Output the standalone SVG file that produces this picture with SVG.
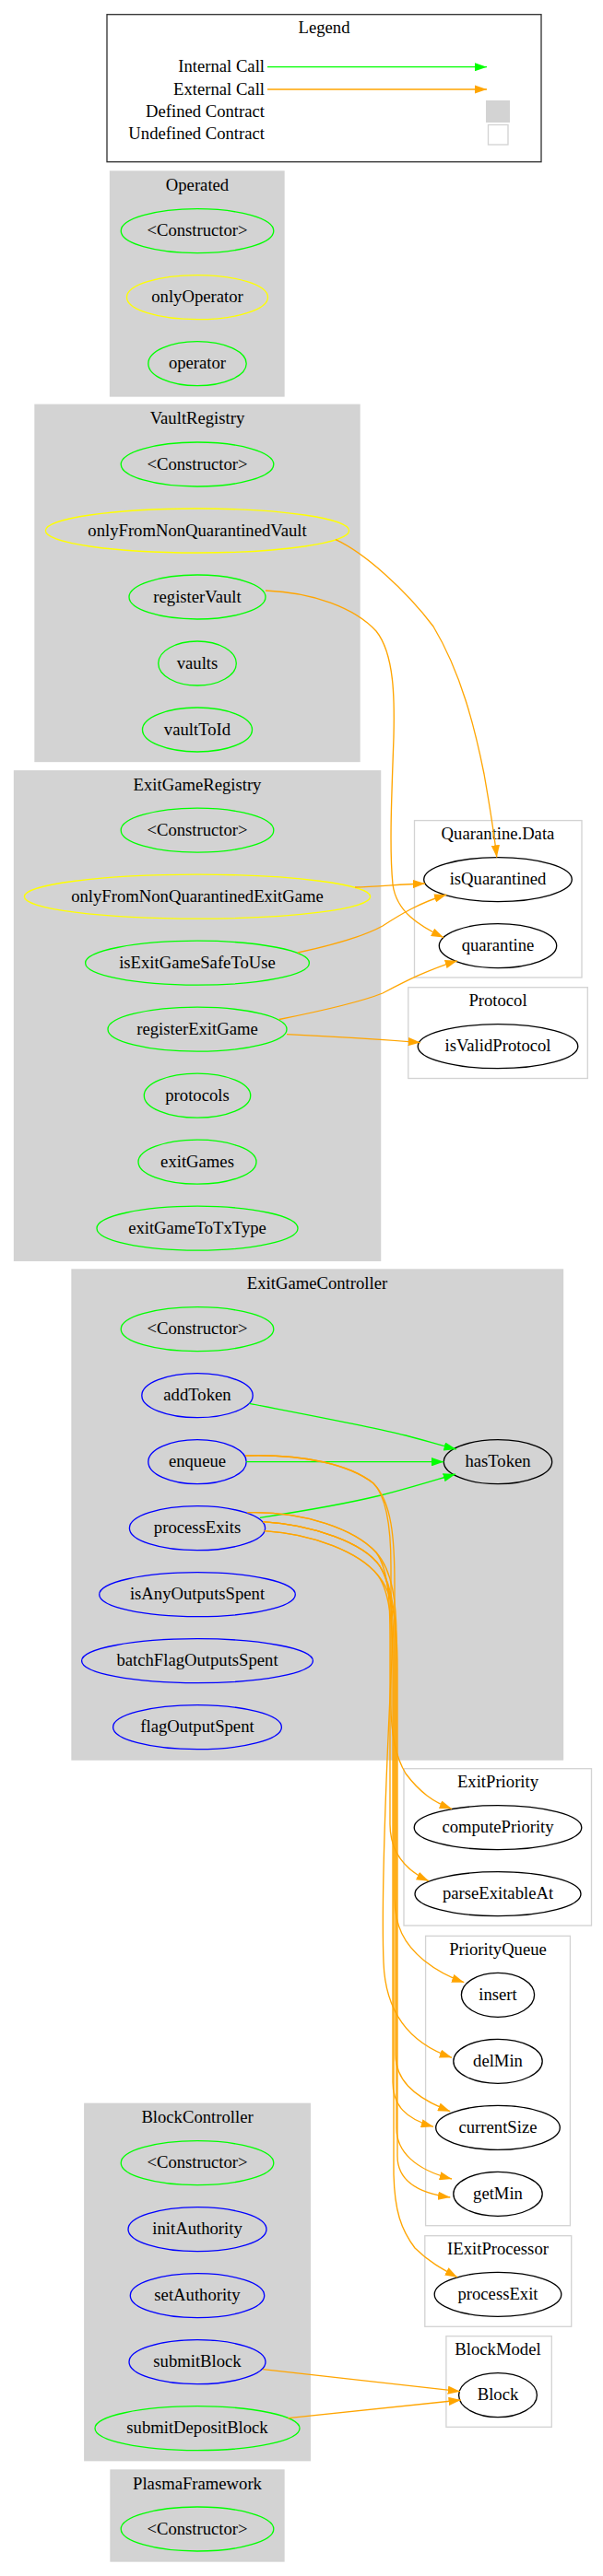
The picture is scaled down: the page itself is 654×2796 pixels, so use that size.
<svg xmlns="http://www.w3.org/2000/svg" width="654" height="2796" viewBox="0 0 654 2796">
<style>
text{font-family:"Liberation Serif","Times New Roman",serif;font-size:18.67px;fill:#000}
.c{text-anchor:middle}
.r{text-anchor:end}
.def{fill:#d3d3d3;stroke:#d3d3d3;stroke-width:1.33}
.und{fill:#fff;stroke:#d3d3d3;stroke-width:1.33}
ellipse{stroke-width:1.33}
.g{fill:none;stroke:#00ff00}
.y{fill:none;stroke:#ffff00}
.b{fill:none;stroke:#0000ff}
.k{fill:none;stroke:#000}
.eg{fill:none;stroke:#00ff00;stroke-width:1.33;marker-end:url(#ag)}
.eo{fill:none;stroke:#ffa500;stroke-width:1.33;marker-end:url(#ao)}
</style>
<defs>
<marker id="ag" viewBox="0 0 10 7" refX="10" refY="3.5" markerUnits="userSpaceOnUse" markerWidth="13.3" markerHeight="9.3" orient="auto"><path d="M0,0 L10,3.5 L0,7 z" fill="#00ff00"/></marker>
<marker id="ao" viewBox="0 0 10 7" refX="10" refY="3.5" markerUnits="userSpaceOnUse" markerWidth="13.3" markerHeight="9.3" orient="auto"><path d="M0,0 L10,3.5 L0,7 z" fill="#ffa500"/></marker>
</defs>
<rect width="654" height="2796" fill="#fff"/>

<g id="legend">
<rect x="116" y="15.7" width="471" height="160" fill="#fff" stroke="#333" stroke-width="1.33"/>
<text class="c" x="351.5" y="36.4">Legend</text>
<text class="r" x="287" y="78.3">Internal Call</text>
<text class="r" x="287" y="102.6">External Call</text>
<text class="r" x="287" y="126.6">Defined Contract</text>
<text class="r" x="287" y="150.6">Undefined Contract</text>
<path class="eg" d="M290,72.7 L528,72.7"/>
<path class="eo" d="M290,97 L528,97"/>
<rect x="527" y="109" width="26" height="24" fill="#d3d3d3"/>
<rect x="529.5" y="135.5" width="21.5" height="21.5" fill="#fff" stroke="#d3d3d3" stroke-width="1.33"/>
</g>

<g id="cluster_Operated">
<rect class="def" x="119.5" y="186" width="188.5" height="244"/>
<text class="c" x="214" y="206.7">Operated</text>
</g>
<g id="Operated_Constructor"><ellipse class="g" cx="214" cy="250.7" rx="82.8" ry="24"/><text class="c" x="214" y="256.3">&lt;Constructor&gt;</text></g>
<g id="Operated_onlyOperator"><ellipse class="y" cx="214" cy="322.7" rx="76.5" ry="24"/><text class="c" x="214" y="328.3">onlyOperator</text></g>
<g id="Operated_operator"><ellipse class="g" cx="214" cy="394.7" rx="53.2" ry="24"/><text class="c" x="214" y="400.3">operator</text></g>

<g id="cluster_VaultRegistry">
<rect class="def" x="38" y="439.3" width="352" height="387.2"/>
<text class="c" x="214" y="460">VaultRegistry</text>
</g>
<g id="VaultRegistry_Constructor"><ellipse class="g" cx="214" cy="504" rx="82.8" ry="24"/><text class="c" x="214" y="509.6">&lt;Constructor&gt;</text></g>
<g id="VaultRegistry_onlyFromNonQuarantinedVault"><ellipse class="y" cx="214" cy="576" rx="164.6" ry="24"/><text class="c" x="214" y="581.6">onlyFromNonQuarantinedVault</text></g>
<g id="VaultRegistry_registerVault"><ellipse class="g" cx="214" cy="648" rx="74" ry="24"/><text class="c" x="214" y="653.6">registerVault</text></g>
<g id="VaultRegistry_vaults"><ellipse class="g" cx="214" cy="720" rx="42.3" ry="24"/><text class="c" x="214" y="725.6">vaults</text></g>
<g id="VaultRegistry_vaultToId"><ellipse class="g" cx="214" cy="792" rx="59.5" ry="24"/><text class="c" x="214" y="797.6">vaultToId</text></g>

<g id="cluster_ExitGameRegistry">
<rect class="def" x="15.5" y="836.8" width="397.1" height="531.5"/>
<text class="c" x="214" y="857.5">ExitGameRegistry</text>
</g>
<g id="ExitGameRegistry_Constructor"><ellipse class="g" cx="214" cy="901.2" rx="82.8" ry="24"/><text class="c" x="214" y="906.8">&lt;Constructor&gt;</text></g>
<g id="ExitGameRegistry_onlyFromNonQuarantinedExitGame"><ellipse class="y" cx="214" cy="973.2" rx="187.6" ry="24"/><text class="c" x="214" y="978.8">onlyFromNonQuarantinedExitGame</text></g>
<g id="ExitGameRegistry_isExitGameSafeToUse"><ellipse class="g" cx="214" cy="1045.2" rx="121.4" ry="24"/><text class="c" x="214" y="1050.8">isExitGameSafeToUse</text></g>
<g id="ExitGameRegistry_registerExitGame"><ellipse class="g" cx="214" cy="1117.2" rx="97" ry="24"/><text class="c" x="214" y="1122.8">registerExitGame</text></g>
<g id="ExitGameRegistry_protocols"><ellipse class="g" cx="214" cy="1189.2" rx="57.7" ry="24"/><text class="c" x="214" y="1194.8">protocols</text></g>
<g id="ExitGameRegistry_exitGames"><ellipse class="g" cx="214" cy="1261.2" rx="64" ry="24"/><text class="c" x="214" y="1266.8">exitGames</text></g>
<g id="ExitGameRegistry_exitGameToTxType"><ellipse class="g" cx="214" cy="1333.2" rx="109" ry="24"/><text class="c" x="214" y="1338.8">exitGameToTxType</text></g>

<g id="cluster_QuarantineData">
<rect class="und" x="449.5" y="890.6" width="181.5" height="170.4"/>
<text class="c" x="540" y="911.3">Quarantine.Data</text>
</g>
<g id="QuarantineData_isQuarantined"><ellipse class="k" cx="540" cy="954.6" rx="80.3" ry="24"/><text class="c" x="540" y="960.2">isQuarantined</text></g>
<g id="QuarantineData_quarantine"><ellipse class="k" cx="540" cy="1026.6" rx="63.7" ry="24"/><text class="c" x="540" y="1032.2">quarantine</text></g>

<g id="cluster_Protocol">
<rect class="und" x="442.8" y="1071.7" width="194.5" height="98.8"/>
<text class="c" x="540" y="1092.4">Protocol</text>
</g>
<g id="Protocol_isValidProtocol"><ellipse class="k" cx="540" cy="1135.7" rx="86.8" ry="24"/><text class="c" x="540" y="1141.3">isValidProtocol</text></g>

<g id="cluster_ExitGameController">
<rect class="def" x="78" y="1378" width="532.5" height="532"/>
<text class="c" x="344" y="1398.7">ExitGameController</text>
</g>
<g id="ExitGameController_Constructor"><ellipse class="g" cx="214" cy="1442.7" rx="82.8" ry="24"/><text class="c" x="214" y="1448.3">&lt;Constructor&gt;</text></g>
<g id="ExitGameController_addToken"><ellipse class="b" cx="214" cy="1514.7" rx="60.2" ry="24"/><text class="c" x="214" y="1520.3">addToken</text></g>
<g id="ExitGameController_enqueue"><ellipse class="b" cx="214" cy="1586.7" rx="53.2" ry="24"/><text class="c" x="214" y="1592.3">enqueue</text></g>
<g id="ExitGameController_processExits"><ellipse class="b" cx="214" cy="1658.7" rx="73.6" ry="24"/><text class="c" x="214" y="1664.3">processExits</text></g>
<g id="ExitGameController_isAnyOutputsSpent"><ellipse class="b" cx="214" cy="1730.7" rx="106.3" ry="24"/><text class="c" x="214" y="1736.3">isAnyOutputsSpent</text></g>
<g id="ExitGameController_batchFlagOutputsSpent"><ellipse class="b" cx="214" cy="1802.7" rx="125.4" ry="24"/><text class="c" x="214" y="1808.3">batchFlagOutputsSpent</text></g>
<g id="ExitGameController_flagOutputSpent"><ellipse class="b" cx="214" cy="1874.7" rx="91.4" ry="24"/><text class="c" x="214" y="1880.3">flagOutputSpent</text></g>
<g id="ExitGameController_hasToken"><ellipse class="k" cx="540" cy="1586.7" rx="58.7" ry="24"/><text class="c" x="540" y="1592.3">hasToken</text></g>

<g id="cluster_ExitPriority">
<rect class="und" x="438" y="1919.7" width="203.5" height="170.3"/>
<text class="c" x="540" y="1940.4">ExitPriority</text>
</g>
<g id="ExitPriority_computePriority"><ellipse class="k" cx="540" cy="1983.7" rx="90.8" ry="24"/><text class="c" x="540" y="1989.3">computePriority</text></g>
<g id="ExitPriority_parseExitableAt"><ellipse class="k" cx="540" cy="2055.7" rx="90" ry="24"/><text class="c" x="540" y="2061.3">parseExitableAt</text></g>

<g id="cluster_PriorityQueue">
<rect class="und" x="461.6" y="2101.3" width="156.8" height="314.4"/>
<text class="c" x="540" y="2122">PriorityQueue</text>
</g>
<g id="PriorityQueue_insert"><ellipse class="k" cx="540" cy="2165.3" rx="39.6" ry="24"/><text class="c" x="540" y="2170.9">insert</text></g>
<g id="PriorityQueue_delMin"><ellipse class="k" cx="540" cy="2237.3" rx="48.2" ry="24"/><text class="c" x="540" y="2242.9">delMin</text></g>
<g id="PriorityQueue_currentSize"><ellipse class="k" cx="540" cy="2309.3" rx="67.3" ry="24"/><text class="c" x="540" y="2314.9">currentSize</text></g>
<g id="PriorityQueue_getMin"><ellipse class="k" cx="540" cy="2381.3" rx="48.2" ry="24"/><text class="c" x="540" y="2386.9">getMin</text></g>

<g id="cluster_IExitProcessor">
<rect class="und" x="460.8" y="2426.7" width="158.9" height="98.6"/>
<text class="c" x="540" y="2447.4">IExitProcessor</text>
</g>
<g id="IExitProcessor_processExit"><ellipse class="k" cx="540" cy="2490.3" rx="68.8" ry="24"/><text class="c" x="540" y="2495.9">processExit</text></g>

<g id="cluster_BlockModel">
<rect class="und" x="483.9" y="2535.7" width="114.4" height="98.6"/>
<text class="c" x="540" y="2556.4">BlockModel</text>
</g>
<g id="BlockModel_Block"><ellipse class="k" cx="540" cy="2599.7" rx="42.4" ry="24"/><text class="c" x="540" y="2605.3">Block</text></g>

<g id="cluster_BlockController">
<rect class="def" x="91.8" y="2283.3" width="244.5" height="387.4"/>
<text class="c" x="214" y="2304">BlockController</text>
</g>
<g id="BlockController_Constructor"><ellipse class="g" cx="214" cy="2347.7" rx="82.8" ry="24"/><text class="c" x="214" y="2353.3">&lt;Constructor&gt;</text></g>
<g id="BlockController_initAuthority"><ellipse class="b" cx="214" cy="2419.7" rx="75" ry="24"/><text class="c" x="214" y="2425.3">initAuthority</text></g>
<g id="BlockController_setAuthority"><ellipse class="b" cx="214" cy="2491.7" rx="72.7" ry="24"/><text class="c" x="214" y="2497.3">setAuthority</text></g>
<g id="BlockController_submitBlock"><ellipse class="b" cx="214" cy="2563.7" rx="74" ry="24"/><text class="c" x="214" y="2569.3">submitBlock</text></g>
<g id="BlockController_submitDepositBlock"><ellipse class="g" cx="214" cy="2635.7" rx="111" ry="24"/><text class="c" x="214" y="2641.3">submitDepositBlock</text></g>

<g id="cluster_PlasmaFramework">
<rect class="def" x="120" y="2681" width="188" height="99"/>
<text class="c" x="214" y="2701.7">PlasmaFramework</text>
</g>
<g id="PlasmaFramework_Constructor"><ellipse class="g" cx="214" cy="2745" rx="82.8" ry="24"/><text class="c" x="214" y="2750.6">&lt;Constructor&gt;</text></g>

<g id="connectors">
<path class="eo" d="M364,585.7 C395,600 440,640 470,680 C500,730 515,790 525,840 C532,880 536,905 538.8,930.6"/>
<path class="eo" d="M288,641 C340,643 385,660 408,685 C428,710 428,760 427,800 C425,860 422,920 426,960 C430,990 455,1005 481,1017.6"/>
<path class="eo" d="M385,963 C410,962 435,960 461,959"/>
<path class="eo" d="M322.9,1034 C360,1026 395,1016 415,1005 C435,992 455,980 484.3,971"/>
<path class="eo" d="M302.7,1106.5 C345,1098 390,1088 415,1078 C440,1065 465,1052 496,1042.8"/>
<path class="eo" d="M311,1122.7 C360,1125 410,1128 456,1131.6"/>

<path class="eg" d="M270.4,1523.3 C330,1535 400,1548 440,1558 C460,1563 478,1569 494.8,1573"/>
<path class="eg" d="M267,1586.7 L481.3,1586.7"/>
<path class="eg" d="M281.8,1647.3 C330,1640 380,1631 413,1623 C445,1615 470,1607 494,1600"/>

<path class="eo" d="M266,1580 C330,1578 380,1590 405,1610 C420,1625 424,1660 424,1700 L424,1850 C424,1880 428,1905 440,1925 C455,1945 470,1956 490,1963.3"/>
<path class="eo" d="M266,1580 C330,1578 380,1590 405,1610 C425,1630 428,1670 428,1720 L428,2060 C428,2090 438,2110 460,2128 C475,2140 490,2147 503.3,2151.7"/>

<path class="eo" d="M268.3,1641.7 C330,1640 385,1660 408,1685 C422,1705 423,1740 423,1780 L423,1980 C423,2010 440,2030 465,2041.7"/>
<path class="eo" d="M285,1651.7 C340,1655 395,1675 412,1700 C425,1720 426,1760 425,1800 C420,1900 413,2050 416,2130 C418,2185 445,2218 490,2233.3"/>
<path class="eo" d="M285,1651.7 C340,1655 395,1675 412,1700 C428,1725 429,1760 429,1800 L429,2230 C429,2255 445,2275 488.3,2291.7"/>
<path class="eo" d="M286.7,1661.7 C340,1665 390,1685 410,1710 C424,1730 426,1770 426,1810 L426,2260 C426,2285 440,2300 470,2308.3"/>
<path class="eo" d="M268.3,1641.7 C330,1640 385,1660 408,1685 C426,1705 430,1740 430,1780 L430,2310 C430,2335 450,2355 490,2365"/>
<path class="eo" d="M286.7,1661.7 C340,1665 390,1685 410,1710 C428,1730 431,1770 431,1810 L431,2340 C431,2365 450,2380 488.3,2385"/>
<path class="eo" d="M285,1651.7 C340,1655 395,1675 412,1700 C426,1722 427,1760 427,1800 L427,2360 C428,2400 435,2420 450,2440 C465,2455 480,2463 496,2471.7"/>

<path class="eo" d="M285,2571.7 L499,2595.7"/>
<path class="eo" d="M312.4,2624.7 L499.8,2605"/>
</g>
</svg>
